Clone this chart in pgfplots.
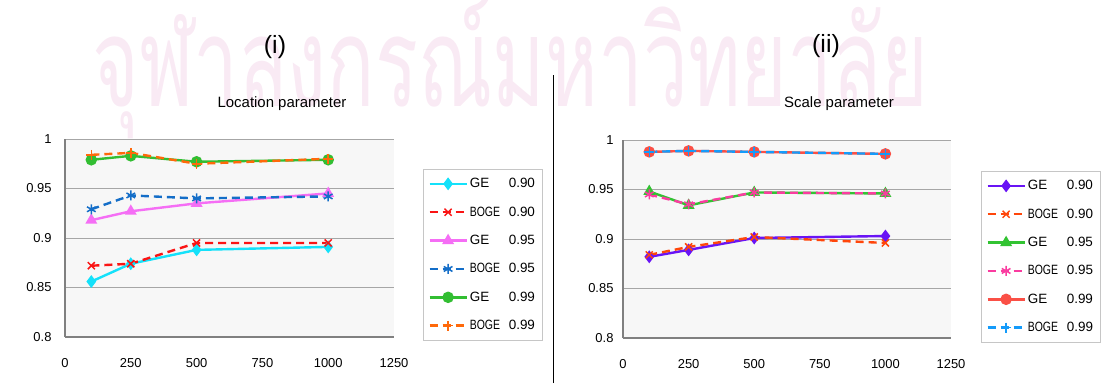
\documentclass[border=0pt]{standalone}
\usepackage{graphicx}
\usepackage{pgfplots}
\pgfplotsset{compat=1.18}
\usepackage{fontspec}
\setmainfont{Liberation Sans}
\newfontfamily\thaifont[Script=Thai]{Loma}

\definecolor{wm}{RGB}{249,234,244}
\definecolor{lcyan}{RGB}{20,225,250}
\definecolor{lred}{RGB}{250,20,20}
\definecolor{lmag}{RGB}{245,110,245}
\definecolor{lblue}{RGB}{20,110,200}
\definecolor{lgreen}{RGB}{50,190,50}
\definecolor{lorange}{RGB}{255,105,10}
\definecolor{rpurple}{RGB}{105,20,245}
\definecolor{rorange}{RGB}{255,70,10}
\definecolor{rgreen}{RGB}{50,195,50}
\definecolor{rpink}{RGB}{250,60,160}
\definecolor{rred}{RGB}{250,80,70}
\definecolor{rsky}{RGB}{20,155,250}

\newcommand{\GE}{\makebox[31bp][l]{GE}}
\newcommand{\BOGE}{\makebox[31bp][l]{\scalebox{0.78}[1]{BOGE}}}

\pgfplotsset{
  myax/.style={
    scale only axis, width=329bp, height=198bp,
    xmin=0, xmax=1250, ymin=0.8, ymax=1,
    xtick={0,250,500,750,1000,1250},
    ytick={0.8,0.85,0.9,0.95,1},
    yticklabels={0.8,0.85,0.9,0.95,1},
    axis lines*=left,
    axis line style={draw=gray, line width=1.6bp},
    ymajorgrids,
    major grid style={draw=gray!70, line width=1bp},
    major tick length=0pt,
    axis background/.style={fill=gray!6},
    tick label style={font=\fontsize{13}{13}\selectfont},
    xticklabel style={yshift=-18bp},
    /pgf/number format/1000 sep={},
    /pgf/number format/assume math mode=true,
    legend cell align=left,
    legend style={draw=gray!45, line width=0.8bp, font=\fontsize{13.5}{15}\selectfont,
      row sep=13.5bp, inner xsep=5bp, inner ysep=7bp},
    legend image code/.code={\draw[mark repeat=2,mark phase=2,##1] plot coordinates {(0bp,0bp) (18.5bp,0bp) (37bp,0bp)};},
    every axis plot/.append style={line width=2.4bp, mark options={solid}},
    clip=false,
  },
  dsh/.style={dash pattern=on 8bp off 5bp},
  thinmk/.style={mark options={solid, line width=1.5bp}, mark size=5bp},
}

\begin{document}
\begin{tikzpicture}[x=1bp,y=1bp]
\useasboundingbox (0,0) rectangle (1101,383);
\node[anchor=base west, inner sep=0, text=wm] at (92,277) {\scalebox{1}[1.55]{\resizebox{836bp}{!}{\thaifont จุฬาลงกรณ์มหาวิทยาลัย}}};
\draw[black, line width=0.9bp] (553,0) -- (553,308);
\node[font=\fontsize{25}{25}\selectfont] at (275,336) {(i)};
\node[font=\fontsize{25}{25}\selectfont] at (826,337) {(ii)};
\node[font=\fontsize{15}{15}\selectfont] at (282,279) {Location parameter};
\node[font=\fontsize{15}{15}\selectfont] at (839,279) {Scale parameter};

\begin{axis}[myax, at={(65bp,46bp)}, anchor=south west,
  yticklabel style={xshift=-10bp},
  legend style={at={(1,1)}, anchor=north west, xshift=29bp, yshift=-30bp}]
\addplot[lcyan, mark=diamond*, mark size=4.5bp] coordinates {(100,0.856)(250,0.874)(500,0.888)(1000,0.891)};
\addlegendentry{\GE\hspace{8bp}0.90}
\addplot[lred, dsh, mark=x, thinmk] coordinates {(100,0.872)(250,0.874)(500,0.895)(1000,0.895)};
\addlegendentry{\BOGE\hspace{8bp}0.90}
\addplot[lmag, mark=triangle*, mark size=4.5bp] coordinates {(100,0.918)(250,0.927)(500,0.935)(1000,0.945)};
\addlegendentry{\GE\hspace{8bp}0.95}
\addplot[lblue, dsh, mark=asterisk, thinmk] coordinates {(100,0.929)(250,0.943)(500,0.940)(1000,0.942)};
\addlegendentry{\BOGE\hspace{8bp}0.95}
\addplot[lgreen, mark=*, mark size=4.5bp] coordinates {(100,0.979)(250,0.983)(500,0.977)(1000,0.979)};
\addlegendentry{\GE\hspace{8bp}0.99}
\addplot[lorange, dsh, mark=+, thinmk] coordinates {(100,0.984)(250,0.986)(500,0.975)(1000,0.980)};
\addlegendentry{\BOGE\hspace{8bp}0.99}
\end{axis}

\begin{axis}[myax, at={(623bp,45bp)}, anchor=south west, width=328bp,
  yticklabel style={xshift=-6bp},
  legend style={at={(1,1)}, anchor=north west, xshift=30bp, yshift=-31bp}]
\addplot[rpurple, mark=diamond*, mark size=4.5bp] coordinates {(100,0.882)(250,0.889)(500,0.901)(1000,0.903)};
\addlegendentry{\GE\hspace{8bp}0.90}
\addplot[rorange, dsh, mark=x, thinmk] coordinates {(100,0.884)(250,0.892)(500,0.902)(1000,0.896)};
\addlegendentry{\BOGE\hspace{8bp}0.90}
\addplot[rgreen, mark=triangle*, mark size=4.5bp] coordinates {(100,0.948)(250,0.934)(500,0.947)(1000,0.946)};
\addlegendentry{\GE\hspace{8bp}0.95}
\addplot[rpink, dsh, mark=asterisk, thinmk] coordinates {(100,0.945)(250,0.935)(500,0.947)(1000,0.946)};
\addlegendentry{\BOGE\hspace{8bp}0.95}
\addplot[rred, mark=*, mark size=4.5bp] coordinates {(100,0.988)(250,0.989)(500,0.988)(1000,0.986)};
\addlegendentry{\GE\hspace{8bp}0.99}
\addplot[rsky, dsh, mark=+, thinmk] coordinates {(100,0.988)(250,0.989)(500,0.988)(1000,0.986)};
\addlegendentry{\BOGE\hspace{8bp}0.99}
\end{axis}
\end{tikzpicture}
\end{document}
